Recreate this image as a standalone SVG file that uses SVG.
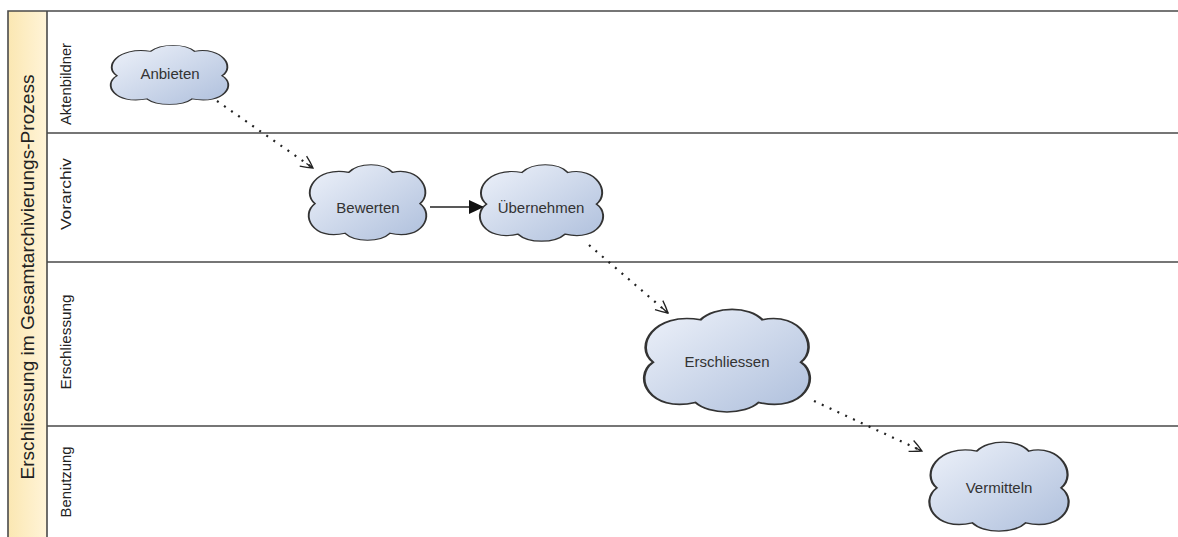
<svg xmlns="http://www.w3.org/2000/svg" width="1178" height="537" viewBox="0 0 1178 537">
<style>
.frame{stroke:#4a4a4a;stroke-width:1.6;fill:none}
.cloud{fill:url(#cg);stroke:#333;stroke-width:1.5;vector-effect:non-scaling-stroke}
.lbl{font-family:"Liberation Sans",Arial,sans-serif;font-size:15px;fill:#333;text-anchor:middle}
.lane{font-family:"Liberation Sans",Arial,sans-serif;font-size:14px;fill:#222;text-anchor:middle}
.title{font-family:"Liberation Sans",Arial,sans-serif;font-size:19px;fill:#222;text-anchor:middle}
.dot{fill:none;stroke:#222;stroke-width:2.2;stroke-dasharray:2 6.6}
.solid{fill:none;stroke:#222;stroke-width:1.3}
</style>
<defs>
<linearGradient id="cg" x1="0" y1="0" x2="1" y2="1">
<stop offset="0" stop-color="#eef2fa"/>
<stop offset="1" stop-color="#aebfdc"/>
</linearGradient>
<linearGradient id="tg" x1="0" y1="0" x2="1" y2="0">
<stop offset="0" stop-color="#fbe7b2"/>
<stop offset="1" stop-color="#fff4d8"/>
</linearGradient>
<path id="cloudp" d="M 8 52 C -3 38, 8 4, 35 12 C 43 -1, 63 -1, 70 12 C 92 4, 103 38, 92 52 C 104 66, 94 100, 68 90 C 60 102, 40 102, 32 90 C 6 100, -4 66, 8 52 Z"/>
<marker id="open" markerWidth="16" markerHeight="16" refX="14" refY="8" orient="auto" markerUnits="userSpaceOnUse">
<path d="M 2 2 Q 9 5 14 8 Q 9 11 2 14 M 6 8 L 14 8" fill="none" stroke="#222" stroke-width="1.3"/>
</marker>
<marker id="fill" markerWidth="16" markerHeight="16" refX="15" refY="8" orient="auto" markerUnits="userSpaceOnUse">
<path d="M 0 1 L 15 8 L 0 15 Z" fill="#111"/>
</marker>
</defs>

<g id="pool">
<rect x="8" y="11" width="39" height="527" fill="url(#tg)"/>
<path class="frame" d="M 8 538 V 11 H 1178 M 47 11 V 538 M 47 133 H 1178 M 47 262 H 1178 M 47 426 H 1178"/>
<text class="title" transform="translate(34,277) rotate(-90)" textLength="405" lengthAdjust="spacingAndGlyphs">Erschliessung im Gesamtarchivierungs-Prozess</text>
</g>
<g id="lanes">
<text class="lane" transform="translate(71,84) rotate(-90)" textLength="82" lengthAdjust="spacingAndGlyphs">Aktenbildner</text>
<text class="lane" transform="translate(71,194) rotate(-90)" textLength="72" lengthAdjust="spacingAndGlyphs">Vorarchiv</text>
<text class="lane" transform="translate(71,342) rotate(-90)" textLength="95" lengthAdjust="spacingAndGlyphs">Erschliessung</text>
<text class="lane" transform="translate(71,482) rotate(-90)" textLength="71" lengthAdjust="spacingAndGlyphs">Benutzung</text>
</g>

<g id="connectors">
<path class="dot" d="M 217 101 L 313 168" marker-end="url(#open)"/>
<path class="solid" d="M 430 207 L 484 207" marker-end="url(#fill)"/>
<path class="dot" d="M 589 245 L 668 313" marker-end="url(#open)"/>
<path class="dot" d="M 814 401 L 922 451" marker-end="url(#open)"/>
</g>

<g id="n-anbieten">
<use href="#cloudp" class="cloud" transform="translate(107,44) scale(1.25,0.61)"/>
<text class="lbl" x="170" y="79">Anbieten</text>
</g>
<g id="n-bewerten">
<use href="#cloudp" class="cloud" transform="translate(305,163) scale(1.25,0.78)"/>
<text class="lbl" x="368" y="213">Bewerten</text>
</g>
<g id="n-uebernehmen">
<use href="#cloudp" class="cloud" transform="translate(476,163) scale(1.31,0.79)"/>
<text class="lbl" x="541" y="213">Übernehmen</text>
</g>
<g id="n-erschliessen">
<use href="#cloudp" class="cloud" transform="translate(639,307) scale(1.76,1.06)"/>
<text class="lbl" x="727" y="367">Erschliessen</text>
</g>
<g id="n-vermitteln">
<use href="#cloudp" class="cloud" transform="translate(925,440) scale(1.48,0.92)"/>
<text class="lbl" x="999" y="493">Vermitteln</text>
</g>
</svg>
